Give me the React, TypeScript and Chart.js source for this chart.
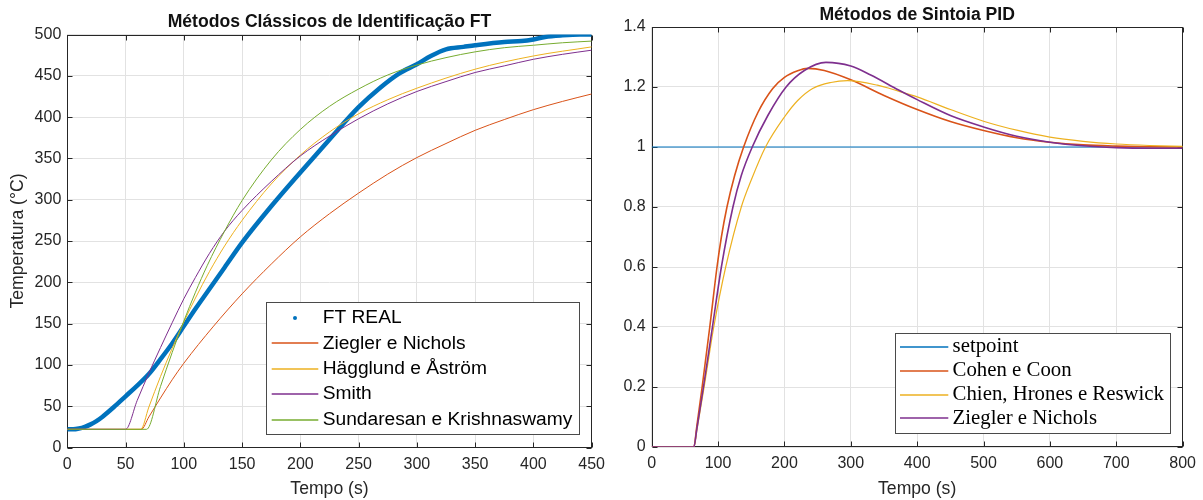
import React, { useEffect, useRef } from "react";
import { Chart, registerables } from "chart.js";

Chart.register(...registerables);

const SANS = '"Liberation Sans", Arial, Helvetica, sans-serif';
const SERIF = '"Liberation Serif", "Times New Roman", serif';

// ---------------- Left chart: identification ----------------
const leftTitle = "Métodos Clássicos de Identificação FT";
const leftXLabel = "Tempo (s)";
const leftYLabel = "Temperatura (°C)";
const leftXTicks = [0, 50, 100, 150, 200, 250, 300, 350, 400, 450];
const leftYTicks = [0, 50, 100, 150, 200, 250, 300, 350, 400, 450, 500];

const ftRealT = [0, 5, 10, 15, 20, 25, 30, 40, 50, 60, 70, 80, 90, 100, 110, 120, 135, 150, 175, 200, 225, 250, 268, 285, 300, 312, 325, 340, 350, 375, 390, 400, 410, 425, 440, 450];
const ftRealY = [22, 22, 23, 25, 28, 32, 37, 49, 62, 75, 89, 107, 126, 147, 168, 188, 218, 248, 292, 333, 373, 412, 435, 453, 464, 474, 482, 485, 487, 491, 492, 494, 497, 499, 500, 500];

const znT = [0, 63.5, 70, 80, 90, 100, 125, 150, 175, 200, 225, 250, 275, 300, 325, 350, 375, 400, 425, 450];
const znY = [22, 22, 37, 60, 82, 102, 146, 186, 222, 255, 283, 308, 331, 351, 368, 384, 397, 409, 419, 428];

const haT = [0, 63, 70, 80, 90, 100, 110, 122, 135, 150, 175, 200, 225, 250, 275, 300, 350, 400, 450];
const haY = [22, 22, 49, 86, 120, 152, 181, 213, 244, 275, 319, 354, 382, 404, 421, 435, 458, 474, 485];

const smithT = [0, 50, 60, 70, 80, 90, 100, 110, 122, 135, 150, 175, 200, 225, 250, 275, 300, 325, 350, 375, 400, 425, 450];
const smithY = [22, 22, 57, 90, 121, 151, 180, 206, 235, 262, 287, 322, 353, 377, 398, 416, 431, 443, 454, 462, 470, 476, 481];

const skT = [0, 68, 80, 90, 100, 110, 120, 135, 150, 175, 200, 225, 250, 275, 300, 325, 350, 375, 400, 425, 450];
const skY = [22, 22, 74, 115, 153, 188, 220, 262, 299, 348, 385, 413, 434, 451, 463, 472, 479, 484, 487, 490, 492];

// ---------------- Right chart: PID tuning ----------------
const rightTitle = "Métodos de Sintoia PID";
const rightXLabel = "Tempo (s)";
const rightXTicks = [0, 100, 200, 300, 400, 500, 600, 700, 800];
const rightYTicks = [0, 0.2, 0.4, 0.6, 0.8, 1, 1.2, 1.4];

const setpointT = [0, 800];
const setpointY = [1, 1];

const ccT = [0, 63.5, 68, 76, 87.5, 98.4, 105, 113.4, 125, 138.5, 160, 182.4, 200, 220, 235, 260, 300, 350, 400, 450, 500, 550, 600, 650, 700, 750, 800];
const ccY = [0, 0, 0.07, 0.2, 0.4, 0.6, 0.7, 0.8, 0.905, 1.0, 1.115, 1.195, 1.232, 1.254, 1.262, 1.255, 1.224, 1.172, 1.125, 1.085, 1.055, 1.031, 1.016, 1.007, 1.003, 1.001, 1.0];

const chrT = [0, 63.5, 68, 79, 93.5, 111.5, 135, 150, 171.5, 200, 220, 242.5, 270, 295, 340, 372, 400, 450, 500, 550, 600, 650, 700, 750, 800];
const chrY = [0, 0, 0.055, 0.2, 0.4, 0.6, 0.8, 0.89, 1.0, 1.1, 1.155, 1.195, 1.215, 1.221, 1.206, 1.186, 1.167, 1.125, 1.086, 1.056, 1.033, 1.019, 1.01, 1.005, 1.002];

const znPidT = [0, 63.5, 68, 78, 91.5, 105, 122.4, 135, 151.5, 175, 202.5, 230, 262.5, 300, 330, 372, 400, 450, 500, 550, 600, 650, 700, 750, 800];
const znPidY = [0, 0, 0.06, 0.2, 0.4, 0.6, 0.8, 0.905, 1.0, 1.105, 1.2, 1.255, 1.282, 1.27, 1.24, 1.19, 1.158, 1.105, 1.067, 1.036, 1.016, 1.004, 0.998, 0.996, 0.996];

const C_BLUE = "#0072BD";
const C_ORANGE = "#D95319";
const C_YELLOW = "#EDB120";
const C_PURPLE = "#7E2F8E";
const C_GREEN = "#77AC30";

const pts = (t: number[], y: number[]) => t.map((x, i) => ({ x, y: y[i] }));
const fmt = (v: any) => String(+Number(v).toFixed(3));

// Axes box with inward ticks, drawn under the data (MATLAB Layer = bottom)
const framePlugin = {
  id: "frame",
  beforeDatasetsDraw(chart: any) {
    const { ctx, chartArea: a, scales } = chart;
    const L = Math.round(a.left) + 0.5;
    const R = Math.round(a.right) - 0.5;
    const T = Math.round(a.top) + 0.5;
    const B = Math.round(a.bottom) - 0.5;
    const tl = 5;
    ctx.save();
    ctx.strokeStyle = "#262626";
    ctx.lineWidth = 1;
    ctx.strokeRect(L, T, R - L, B - T);
    ctx.beginPath();
    scales.x.ticks.forEach((t: any) => {
      const x = Math.round(scales.x.getPixelForValue(t.value)) + 0.5;
      ctx.moveTo(x, B); ctx.lineTo(x, B - tl);
      ctx.moveTo(x, T); ctx.lineTo(x, T + tl);
    });
    scales.y.ticks.forEach((t: any) => {
      const y = Math.round(scales.y.getPixelForValue(t.value)) + 0.5;
      ctx.moveTo(L, y); ctx.lineTo(L + tl, y);
      ctx.moveTo(R, y); ctx.lineTo(R - tl, y);
    });
    ctx.stroke();
    ctx.restore();
  },
};

const titlePlugin = {
  id: "plotTitle",
  afterDraw(chart: any, _args: any, opts: any) {
    if (!opts || !opts.text) return;
    const { ctx, chartArea: a } = chart;
    ctx.save();
    ctx.font = `bold ${opts.size}px ${SANS}`;
    ctx.fillStyle = "#111";
    ctx.textAlign = "center";
    ctx.textBaseline = "alphabetic";
    ctx.fillText(opts.text, (a.left + a.right) / 2, opts.baseline);
    ctx.restore();
  },
};

const boxLegendPlugin = {
  id: "boxLegend",
  afterDraw(chart: any, _args: any, o: any) {
    if (!o || !o.display) return;
    const { ctx, chartArea } = chart;
    ctx.save();
    ctx.font = o.font;
    const items = chart.data.datasets.map((ds: any) => ({
      label: ds.label,
      color: ds.borderColor,
      width: ds.legendLineWidth ?? ds.borderWidth,
      marker: ds.legendMarker,
    }));
    const maxW = Math.max(...items.map((it: any) => ctx.measureText(it.label).width));
    const w = Math.round(o.textX + maxW + o.padRight);
    const h = Math.round(o.padTop + o.rowH * (items.length - 1) + o.padBottom);
    const right = Math.round(chartArea.right - o.offsetRight);
    const bottom = Math.round(chartArea.bottom - o.offsetBottom);
    const left = right - w;
    const top = bottom - h;
    ctx.fillStyle = "#ffffff";
    ctx.fillRect(left, top, w, h);
    ctx.strokeStyle = "#4a4a4a";
    ctx.lineWidth = 1;
    ctx.strokeRect(left + 0.5, top + 0.5, w, h);
    items.forEach((it: any, i: number) => {
      const cy = top + o.padTop + i * o.rowH;
      if (it.marker) {
        ctx.fillStyle = it.color;
        ctx.beginPath();
        ctx.arc(left + o.dotX, cy, 2, 0, Math.PI * 2);
        ctx.fill();
      } else {
        ctx.strokeStyle = it.color;
        ctx.lineWidth = Math.max(1.3, it.width);
        const yy = Math.round(cy);
        ctx.beginPath();
        ctx.moveTo(left + o.lineX0, yy);
        ctx.lineTo(left + o.lineX1, yy);
        ctx.stroke();
      }
      ctx.fillStyle = "#000";
      ctx.textAlign = "left";
      ctx.textBaseline = "middle";
      ctx.fillText(it.label, left + o.textX, cy);
    });
    ctx.restore();
  },
};

function xScale(min: number, max: number, ticks: number[], title: string, height: number) {
  return {
    type: "linear",
    min,
    max,
    afterBuildTicks: (s: any) => { s.ticks = ticks.map((v) => ({ value: v })); },
    afterFit: (s: any) => { s.height = height; },
    grid: { color: "#e2e2e2", lineWidth: 1, drawTicks: false },
    border: { display: false },
    ticks: { padding: 7, color: "#262626", font: { family: SANS, size: 16 }, callback: fmt, maxRotation: 0, autoSkip: false },
    title: { display: true, text: title, color: "#262626", font: { family: SANS, size: 17.6 }, padding: { top: 0, bottom: 0.5 } },
  };
}

function yScale(min: number, max: number, ticks: number[], title: string | null, width: number) {
  return {
    type: "linear",
    min,
    max,
    afterBuildTicks: (s: any) => { s.ticks = ticks.map((v) => ({ value: v })); },
    afterFit: (s: any) => { s.width = width; },
    grid: { color: "#e2e2e2", lineWidth: 1, drawTicks: false },
    border: { display: false },
    ticks: { padding: 6, color: "#262626", font: { family: SANS, size: 16 }, callback: fmt, autoSkip: false },
    title: title
      ? { display: true, text: title, color: "#262626", font: { family: SANS, size: 17.6 }, padding: { top: 8, bottom: 0 } }
      : { display: false },
  };
}

const lineDs = (label: string, t: number[], y: number[], color: string, width: number, order: number, extra: any = {}) => ({
  label,
  data: pts(t, y),
  borderColor: color,
  backgroundColor: color,
  borderWidth: width,
  pointRadius: 0,
  fill: false,
  cubicInterpolationMode: "monotone",
  order,
  ...extra,
});

export default function App() {
  const leftRef = useRef<HTMLCanvasElement | null>(null);
  const rightRef = useRef<HTMLCanvasElement | null>(null);

  useEffect(() => {
    const LW = 612, RW = 591, H = 500;
    const left = new Chart(leftRef.current as HTMLCanvasElement, {
      type: "line",
      data: {
        datasets: [
          lineDs("FT REAL", ftRealT, ftRealY, C_BLUE, 4.5, 10, { legendMarker: true }),
          lineDs("Ziegler e Nichols", znT, znY, C_ORANGE, 1, 4),
          lineDs("Hägglund e Åström", haT, haY, C_YELLOW, 1, 3),
          lineDs("Smith", smithT, smithY, C_PURPLE, 1, 2),
          lineDs("Sundaresan e Krishnaswamy", skT, skY, C_GREEN, 1, 1),
        ] as any,
      },
      options: {
        responsive: false,
        devicePixelRatio: 1,
        animation: false,
        layout: { padding: { left: 0, right: LW - 591.7, top: 34.5, bottom: 0 } },
        scales: {
          x: xScale(0, 450, leftXTicks, leftXLabel, H - 447.5) as any,
          y: yScale(0, 500, leftYTicks, leftYLabel, 67.3) as any,
        },
        plugins: {
          legend: { display: false },
          tooltip: { enabled: false },
          plotTitle: { text: leftTitle, size: 17.6, baseline: 27 },
          boxLegend: {
            display: true,
            font: `19.2px ${SANS}`,
            padTop: 16, rowH: 25.4, padBottom: 14.3,
            textX: 56.7, padRight: 6.6, lineX0: 5.7, lineX1: 52.3, dotX: 29,
            offsetRight: 12.4, offsetBottom: 13.2,
          },
        } as any,
      },
      plugins: [framePlugin, titlePlugin, boxLegendPlugin],
    });

    const right = new Chart(rightRef.current as HTMLCanvasElement, {
      type: "line",
      data: {
        datasets: [
          lineDs("setpoint", setpointT, setpointY, C_BLUE, 1.2, 4),
          lineDs("Cohen e Coon", ccT, ccY, C_ORANGE, 1.6, 3),
          lineDs("Chien, Hrones e Reswick", chrT, chrY, C_YELLOW, 1.2, 2),
          lineDs("Ziegler e Nichols", znPidT, znPidY, C_PURPLE, 1.6, 1),
        ] as any,
      },
      options: {
        responsive: false,
        devicePixelRatio: 1,
        animation: false,
        layout: { padding: { left: 0, right: RW - 572.7, top: 27, bottom: 0 } },
        scales: {
          x: xScale(0, 800, rightXTicks, rightXLabel, H - 447) as any,
          y: yScale(0, 1.4, rightYTicks, null, 39.7) as any,
        },
        plugins: {
          legend: { display: false },
          tooltip: { enabled: false },
          plotTitle: { text: rightTitle, size: 17.6, baseline: 20 },
          boxLegend: {
            display: true,
            font: `20.8px ${SERIF}`,
            padTop: 13.7, rowH: 23.9, padBottom: 14.7,
            textX: 57.6, padRight: 6, lineX0: 5, lineX1: 53.3, dotX: 29,
            offsetRight: 13, offsetBottom: 14,
          },
        } as any,
      },
      plugins: [framePlugin, titlePlugin, boxLegendPlugin],
    });

    return () => {
      left.destroy();
      right.destroy();
    };
  }, []);

  return (
    <div style={{ position: "absolute", left: 0, top: 0, width: 1203, height: 500, background: "#fff", overflow: "hidden" }}>
      <canvas ref={leftRef} width={612} height={500} style={{ position: "absolute", left: 0, top: 0, width: 612, height: 500 }} />
      <canvas ref={rightRef} width={591} height={500} style={{ position: "absolute", left: 612, top: 0, width: 591, height: 500 }} />
    </div>
  );
}
